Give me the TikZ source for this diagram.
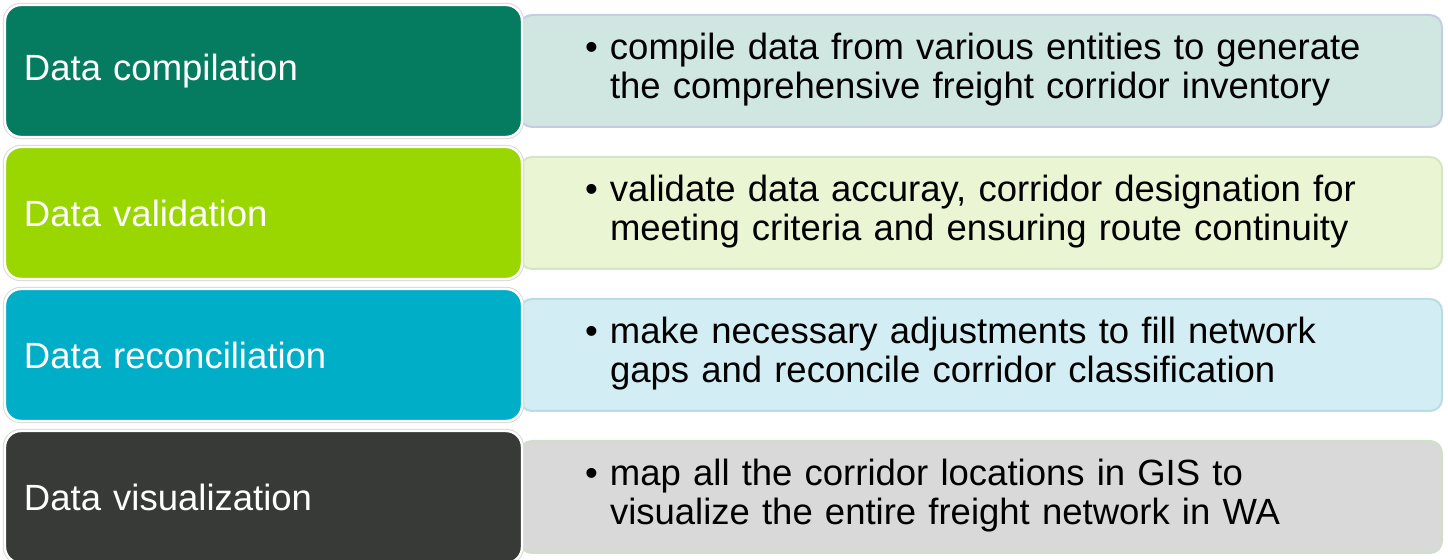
\documentclass[tikz,border=0pt]{standalone}
\usepackage{fontspec}
\setmainfont{Liberation Sans}
\usetikzlibrary{positioning}

\definecolor{dark1}{HTML}{057B60}
\definecolor{dark2}{HTML}{9AD700}
\definecolor{dark3}{HTML}{00AEC8}
\definecolor{dark4}{HTML}{383A37}
\definecolor{light1}{HTML}{D0E6E1}
\definecolor{light2}{HTML}{E9F5D3}
\definecolor{light3}{HTML}{D2EDF3}
\definecolor{light4}{HTML}{D9D9D9}
\definecolor{edge1}{HTML}{C6CDE3}
\definecolor{edge2}{HTML}{D6E6C4}
\definecolor{edge3}{HTML}{B8DDE2}
\definecolor{edge4}{HTML}{CFE0C8}

\newcommand{\bulletpair}[2]{%
  \hspace*{15pt}\begin{tabular}{@{}p{12.5pt}@{}l@{}}\textbullet & #1\\ & #2\end{tabular}}

\begin{document}
\begin{tikzpicture}[x=0.5pt,y=-0.5pt,
    stagebox/.style={rounded corners=8pt, draw=white, line width=1.2pt,
      preaction={draw=black!15, line width=2.2pt},
      minimum width=258.5pt, minimum height=66pt, inner xsep=9.5pt,
      text width=239.5pt, align=left, text=white,
      font=\fontsize{18.25}{19.5}\selectfont},
    notebox/.style={rounded corners=6pt, line width=1pt,
      minimum width=461pt, minimum height=56pt, inner xsep=0pt,
      text width=426pt, align=left, text=black,
      font=\fontsize{18.25}{19.5}\selectfont}]
  \clip (0,0) rectangle (1448,560);
  \fill[white] (0,0) rectangle (1448,560);

  \foreach \i/\title/\lineA/\lineB in {
      1/{Data compilation}/{compile data from various entities to generate}/{the comprehensive freight corridor inventory},
      2/{Data validation}/{validate data accuray, corridor designation for}/{meeting criteria and ensuring route continuity},
      3/{Data reconciliation}/{make necessary adjustments to fill network}/{gaps and reconcile corridor classification},
      4/{Data visualization}/{map all the corridor locations in GIS to}/{visualize the entire freight network in WA}} {
    \node[notebox, fill=light\i, draw=edge\i] (note\i)
      at (981, {71+142*(\i-1)}) {\bulletpair{\lineA}{\lineB}};
    \node[stagebox, fill=dark\i] (stage\i)
      at (263.5, {71+142*(\i-1)}) {\title};
  }
\end{tikzpicture}
\end{document}
